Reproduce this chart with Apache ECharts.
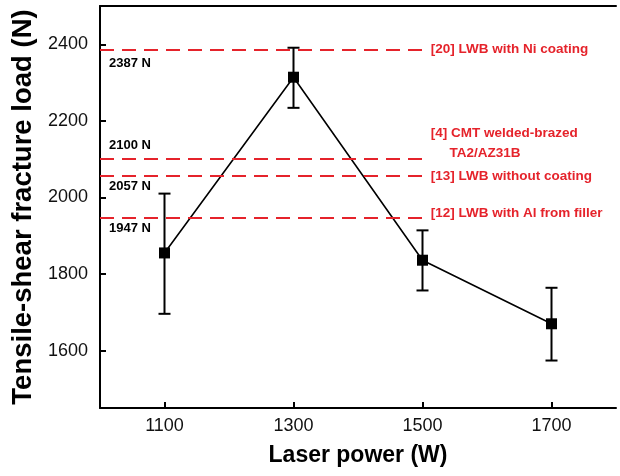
<!DOCTYPE html>
<html>
<head>
<meta charset="utf-8">
<script src="https://cdn.jsdelivr.net/npm/echarts@6/dist/echarts.min.js"></script>
<style>
html,body{margin:0;padding:0;background:#fff;}
#main{width:620px;height:476px;}
</style>
</head>
<body>
<div id="main"></div>
<script>
// data
var power=[1100,1300,1500,1700];
var load=[1855,2314,1836,1670];
var errLow=[1696,2234,1757,1574];
var errHigh=[2010,2391,1914,1764];
var refValues=[2387,2100,2057,1947];
var refNames=["[20] LWB with Ni coating","[4] CMT welded-brazed\n     TA2/AZ31B","[13] LWB without coating","[12] LWB with Al from filler"];
var refValueText=["2387 N","2100 N","2057 N","1947 N"];
var xTicks=[1100,1300,1500,1700];
var yTicks=[1600,1800,2000,2200,2400];

var RED='#e5232b';
var FONT='"Liberation Sans", Arial, sans-serif';

// placement of the reference labels (not data)
var refLabelOffset=[[0,0],[0,-16],[0,1],[0,-4]];
var valuePos=['insideStartBottom','insideStartTop','insideStartBottom','insideStartBottom'];
var valueGap=[8,7,4,4];

var lineData=[];
var errData=[];
for(var i=0;i<power.length;i++)
{
    lineData.push([power[i],load[i]]);
    errData.push([power[i],errLow[i],errHigh[i]]);
}

var refLines=[];
var refValueLines=[];
for(var i=0;i<refValues.length;i++)
{
    refLines.push([
        {coord:[1000,refValues[i]],label:{formatter:refNames[i],offset:refLabelOffset[i]}},
        {coord:[1505,refValues[i]]}
    ]);
    refValueLines.push([
        {coord:[1000,refValues[i]],label:{formatter:refValueText[i],position:valuePos[i],distance:[9,valueGap[i]]}},
        {coord:[1505,refValues[i]]}
    ]);
}

function plain(v){return String(v);}

var myChart=echarts.init(document.getElementById('main'));

var option={
    animation:false,
    backgroundColor:'#fff',
    grid:{left:100,right:4,top:6,bottom:68},
    xAxis:[{
        type:'value',
        min:1000,
        max:1800,
        name:'Laser power (W)',
        nameLocation:'middle',
        nameGap:36,
        nameTextStyle:{fontFamily:FONT,fontSize:23,fontWeight:'bold',color:'#000'},
        axisLine:{show:true,lineStyle:{color:'#000',width:2}},
        axisTick:{show:true,inside:true,length:6,customValues:xTicks,lineStyle:{color:'#000',width:2}},
        axisLabel:{customValues:xTicks,formatter:plain,margin:9,fontFamily:FONT,fontSize:18,color:'#111'},
        splitLine:{show:false}
    },{
        type:'value',
        position:'top',
        min:1000,
        max:1800,
        axisLine:{show:true,lineStyle:{color:'#000',width:2}},
        axisTick:{show:false},
        axisLabel:{show:false},
        splitLine:{show:false}
    }],
    yAxis:{
        type:'value',
        min:1450,
        max:2500,
        name:'Tensile-shear fracture load (N)',
        nameLocation:'middle',
        nameGap:58,
        nameTextStyle:{fontFamily:FONT,fontSize:27.5,fontWeight:'bold',color:'#000'},
        axisLine:{show:true,lineStyle:{color:'#000',width:2}},
        axisTick:{show:true,inside:true,length:6,customValues:yTicks,lineStyle:{color:'#000',width:2}},
        axisLabel:{customValues:yTicks,formatter:plain,margin:12,fontFamily:FONT,fontSize:18,color:'#111'},
        splitLine:{show:false}
    },
    series:[
        {
            //参考线
            type:'line',
            data:[],
            markLine:{
                silent:true,
                symbol:['none','none'],
                lineStyle:{color:RED,width:2,type:[14,8]},
                label:{show:true,position:'end',distance:5,color:RED,fontFamily:FONT,fontSize:13.5,fontWeight:'bold',lineHeight:20},
                data:refLines
            }
        },
        {
            //参考值
            type:'line',
            data:[],
            markLine:{
                silent:true,
                symbol:['none','none'],
                lineStyle:{color:'rgba(0,0,0,0)',width:0},
                label:{show:true,color:'#000',fontFamily:FONT,fontSize:13,fontWeight:'bold'},
                data:refValueLines
            }
        },
        {
            //误差棒
            type:'custom',
            data:errData,
            z:3,
            renderItem:function(params,api)
            {
                var x=api.value(0);
                var pLo=api.coord([x,api.value(1)]);
                var pHi=api.coord([x,api.value(2)]);
                var w=6;
                var st={stroke:'#000',lineWidth:2};
                return {type:'group',children:[
                    {type:'line',shape:{x1:pLo[0],y1:pLo[1],x2:pHi[0],y2:pHi[1]},style:st},
                    {type:'line',shape:{x1:pLo[0]-w,y1:pLo[1],x2:pLo[0]+w,y2:pLo[1]},style:st},
                    {type:'line',shape:{x1:pHi[0]-w,y1:pHi[1],x2:pHi[0]+w,y2:pHi[1]},style:st}
                ]};
            }
        },
        {
            type:'line',
            data:lineData,
            z:4,
            symbol:'rect',
            symbolSize:11,
            itemStyle:{color:'#000'},
            lineStyle:{color:'#000',width:1.6}
        }
    ]
};
myChart.setOption(option);
</script>
</body>
</html>
